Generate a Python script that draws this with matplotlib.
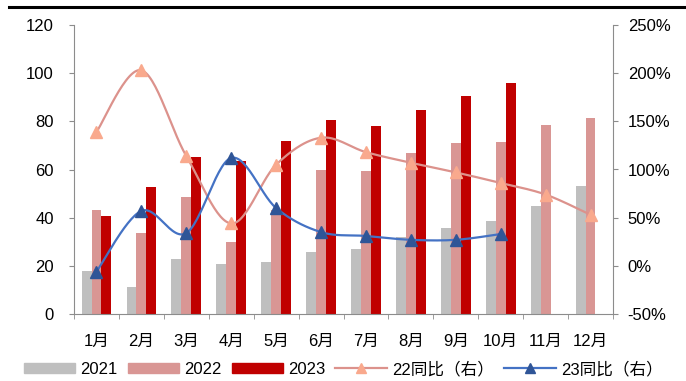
import numpy as np
import matplotlib
matplotlib.use('Agg')
import matplotlib.pyplot as plt
from matplotlib.lines import Line2D
from matplotlib.patches import Patch

plt.rcParams['font.family'] = ['Liberation Sans', 'Noto Sans CJK SC', 'DejaVu Sans']

months = ['1月', '2月', '3月', '4月', '5月', '6月', '7月', '8月', '9月', '10月', '11月', '12月']
v2021 = [18.0, 11.1, 22.8, 20.8, 21.7, 25.6, 27.1, 32.0, 35.7, 38.5, 45.0, 53.2]
v2022 = [43.2, 33.5, 48.4, 29.9, 43.0, 59.7, 59.4, 66.7, 70.9, 71.4, 78.5, 81.5]
v2023 = [40.8, 52.6, 65.3, 63.5, 71.7, 80.7, 78.1, 84.7, 90.4, 96.1]
yoy22 = [139, 203, 114, 44, 105, 133, 118, 107, 97, 86, 74, 53]
yoy23 = [-6, 57, 34, 112, 60, 35, 31, 27, 27, 33]

c21, c22, c23 = '#BFBFBF', '#D99694', '#C00000'
axis_grey = '#8C8C8C'


def smooth(x, y, n=30):
    # Bezier curve through the points, similar to a spreadsheet "smoothed line"
    x = np.asarray(x, float)
    y = np.asarray(y, float)
    xs, ys = [], []
    for i in range(len(x) - 1):
        p0 = np.array([x[max(i - 1, 0)], y[max(i - 1, 0)]])
        p1 = np.array([x[i], y[i]])
        p2 = np.array([x[i + 1], y[i + 1]])
        p3 = np.array([x[min(i + 2, len(x) - 1)], y[min(i + 2, len(x) - 1)]])
        c1 = p1 + (p2 - p0) / 6
        c2 = p2 - (p3 - p1) / 6
        t = np.linspace(0, 1, n)[:, None]
        pts = (1 - t) ** 3 * p1 + 3 * (1 - t) ** 2 * t * c1 + 3 * (1 - t) * t ** 2 * c2 + t ** 3 * p2
        xs.extend(pts[:, 0])
        ys.extend(pts[:, 1])
    return xs, ys


fig = plt.figure(figsize=(6.86, 3.81), dpi=100)
ax = fig.add_axes([74 / 686, 67 / 381, 539 / 686, 289 / 381])
ax2 = ax.twinx()

x = np.arange(len(months))
w = 0.22
ax.bar(x - w, v2021, w, color=c21, zorder=2)
ax.bar(x, v2022, w, color=c22, zorder=2)
ax.bar(np.arange(len(v2023)) + w, v2023, w, color=c23, zorder=2)

ax.set_xlim(-0.5, len(months) - 0.5)
ax.set_ylim(0, 120)
ax.set_yticks(range(0, 121, 20))
ax.set_xticks(x)
ax.set_xticklabels(months)
ax.set_xticks(np.arange(-0.5, len(months), 1), minor=True)
ax.tick_params(axis='x', which='major', length=0, pad=14, labelsize=12)
ax.tick_params(axis='x', which='minor', length=3.6, color=axis_grey, direction='out')
ax.tick_params(axis='y', length=3.6, color=axis_grey, labelsize=12, pad=11)

ax2.set_ylim(-50, 250)
ax2.set_yticks(range(-50, 251, 50))
ax2.set_yticklabels([f'{v}%' for v in range(-50, 251, 50)])
ax2.tick_params(axis='y', length=3.6, color=axis_grey, labelsize=12, pad=7)

for a in (ax, ax2):
    a.spines['top'].set_visible(False)
    for s in ('left', 'right', 'bottom'):
        a.spines[s].set_color(axis_grey)
ax.spines['right'].set_visible(False)
ax2.spines['left'].set_visible(False)
ax2.spines['bottom'].set_visible(False)

sx, sy = smooth(x, yoy22)
ax2.plot(sx, sy, color='#DC928C', lw=1.6, zorder=3)
ax2.plot(x, yoy22, ls='none', marker='^', ms=9, color='#F9A98D', zorder=4)
x23 = np.arange(len(yoy23))
sx, sy = smooth(x23, yoy23)
ax2.plot(sx, sy, color='#4472C4', lw=1.6, zorder=3)
ax2.plot(x23, yoy23, ls='none', marker='^', ms=9, color='#2F5597', zorder=4)

# header rule above the plot
fig.add_artist(Line2D([9 / 686, 1], [1 - 7 / 381] * 2, color='black', lw=2.2))

handles = [
    Patch(color=c21, label='2021'),
    Patch(color=c22, label='2022'),
    Patch(color=c23, label='2023'),
    Line2D([], [], color='#DC928C', lw=1.6, marker='^', ms=7, mfc='#F9A98D', mec='#F9A98D', label='22同比（右）'),
    Line2D([], [], color='#4472C4', lw=1.6, marker='^', ms=7, mfc='#2F5597', mec='#2F5597', label='23同比（右）'),
]
fig.legend(handles=handles, loc='center', bbox_to_anchor=(0.5, 1 - 369 / 381), ncol=5,
           frameon=False, fontsize=12, handlelength=3.1, handleheight=0.6,
           handletextpad=0.3, columnspacing=0.6)

fig.savefig('out.png', dpi=100)
